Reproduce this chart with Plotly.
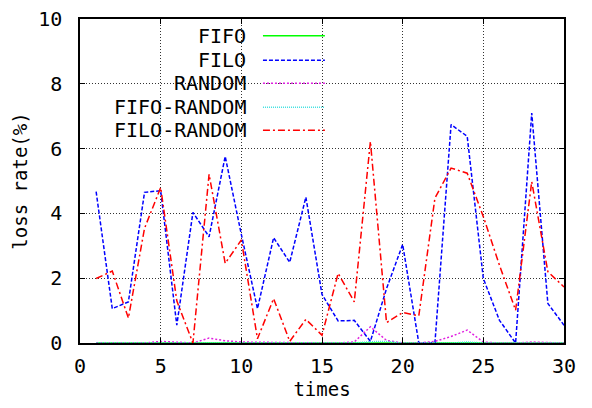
import plotly.graph_objects as go

times = list(range(1, 31))

fifo = [0.0] * 30
filo = [4.67, 1.06, 1.27, 4.65, 4.70, 0.55, 4.03, 3.28, 5.76, 3.35,
        1.06, 3.25, 2.49, 4.50, 1.50, 0.68, 0.70, 0.05, 1.68, 3.04,
        0.0, 0.0, 6.74, 6.38, 1.99, 0.70, 0.0, 7.10, 1.22, 0.55]
random_ = [0.0, 0.0, 0.0, 0.0, 0.05, 0.02, 0.0, 0.15, 0.07, 0.03,
           0.02, 0.02, 0.0, 0.0, 0.0, 0.0, 0.03, 0.50, 0.08, 0.0,
           0.0, 0.05, 0.20, 0.40, 0.03, 0.0, 0.0, 0.03, 0.02, 0.0]
fifo_random = [0.0] * 17 + [0.04, 0.05, 0.0, 0.0, 0.0, 0.0, 0.03, 0.0, 0.0, 0.0, 0.0, 0.0, 0.0]
filo_random = [1.99, 2.22, 0.77, 3.54, 4.80, 1.30, 0.0, 5.21, 2.46, 3.18,
               0.13, 1.37, 0.05, 0.73, 0.24, 2.15, 1.27, 6.22, 0.63, 0.94,
               0.84, 4.47, 5.40, 5.24, 3.90, 2.40, 1.01, 4.98, 2.20, 1.73]

names = ["FIFO", "FILO", "RANDOM", "FIFO-RANDOM", "FILO-RANDOM"]
series = [fifo, filo, random_, fifo_random, filo_random]
colors = ["#00ff00", "#0000ff", "#e020e0", "#40e0e0", "#ff0000"]
dashes = ["solid", "4px,2px", "2px,2px", "1px,1px", "7px,3px,2px,3px"]

FONT = "DejaVu Sans Mono"

fig = go.Figure()
for n, s, c, d in zip(names, series, colors, dashes):
    fig.add_trace(go.Scatter(x=times, y=s, mode="lines", name=n,
                             line=dict(color=c, width=1.5, dash=d),
                             showlegend=False))

# gnuplot-style legend: right-aligned text with sample line to the right
legend_y = [0.948, 0.873, 0.802, 0.728, 0.657]
shapes = [dict(type="rect", xref="paper", yref="paper", x0=0.003, x1=0.53,
               y0=0.617, y1=0.995, fillcolor="white", line=dict(width=0),
               layer="between")]
annotations = []
for n, c, d, yy in zip(names, colors, dashes, legend_y):
    annotations.append(dict(xref="paper", yref="paper", x=0.347, y=yy,
                            text=n, showarrow=False, xanchor="right",
                            yanchor="middle",
                            font=dict(family=FONT, size=20, color="black")))
    shapes.append(dict(type="line", xref="paper", yref="paper",
                       x0=0.378, x1=0.506, y0=yy, y1=yy,
                       line=dict(color=c, width=1.5, dash=d)))

axis_common = dict(showline=True, linecolor="black", linewidth=1.5,
                   mirror="ticks", ticks="inside", ticklen=5,
                   tickcolor="black", showgrid=True, gridcolor="#333333",
                   gridwidth=1, griddash="1px,2px", zeroline=False,
                   automargin=False, ticklabeloverflow="allow",
                   tickfont=dict(family=FONT, size=20, color="black"))

fig.update_xaxes(range=[0, 30], tickvals=[0, 5, 10, 15, 20, 25, 30],
                 title=dict(text="times", font=dict(family=FONT, size=19, color="black"),
                            standoff=6),
                 ticklabelstandoff=4, **axis_common)
fig.update_yaxes(range=[0, 10], tickvals=[0, 2, 4, 6, 8, 10],
                 title=dict(text="loss rate(%)", font=dict(family=FONT, size=19, color="black"),
                            standoff=6),
                 ticklabelstandoff=12, **axis_common)

fig.update_layout(width=592, height=408,
                  margin=dict(l=72, r=36, t=11, b=73),
                  plot_bgcolor="white", paper_bgcolor="white",
                  shapes=shapes, annotations=annotations)

fig.write_html("out.html", config={"displayModeBar": False})
